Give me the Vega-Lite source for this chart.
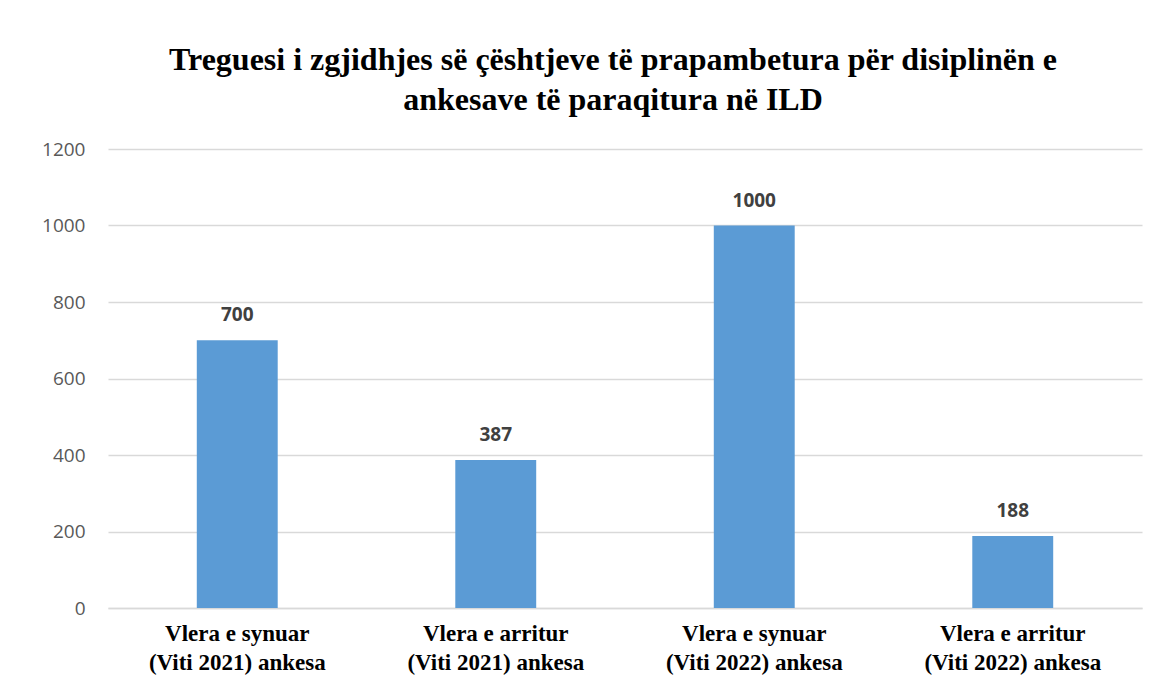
{
  "$schema": "https://vega.github.io/schema/vega-lite/v6.json",
  "autosize": {"type": "none"},
  "width": 1034,
  "height": 459,
  "padding": {"left": 108, "top": 149, "right": 28, "bottom": 83},
  "background": "white",
  "title": {
    "text": ["Treguesi i zgjidhjes së çështjeve të prapambetura për disiplinën e", "ankesave të paraqitura në ILD"],
    "font": "Liberation Serif",
    "fontSize": 32,
    "fontWeight": "bold",
    "color": "#000000",
    "anchor": "middle",
    "dx": -12,
    "offset": 23,
    "lineHeight": 40
  },
  "data": {
    "values": [
      {"cat": "Vlera e synuar (Viti 2021) ankesa", "value": 700},
      {"cat": "Vlera e arritur (Viti 2021) ankesa", "value": 387},
      {"cat": "Vlera e synuar (Viti 2022) ankesa", "value": 1000},
      {"cat": "Vlera e arritur (Viti 2022) ankesa", "value": 188}
    ]
  },
  "encoding": {
    "x": {
      "field": "cat",
      "type": "nominal",
      "sort": null,
      "title": null,
      "scale": {"paddingInner": 0.687, "paddingOuter": 0.3435},
      "axis": {
        "labelAngle": 0,
        "labelExpr": "[slice(datum.label, 0, indexof(datum.label, ' (')), slice(datum.label, indexof(datum.label, ' (') + 1)]",
        "labelFont": "Liberation Serif",
        "labelFontSize": 23,
        "labelFontWeight": "bold",
        "labelColor": "#000000",
        "labelLineHeight": 29,
        "labelPadding": 14,
        "ticks": false,
        "domain": true,
        "domainColor": "#d9d9d9",
        "domainWidth": 1.5,
        "grid": false
      }
    },
    "y": {
      "field": "value",
      "type": "quantitative",
      "title": null,
      "scale": {"domain": [0, 1200]},
      "axis": {
        "values": [0, 200, 400, 600, 800, 1000, 1200],
        "format": "d",
        "labelFont": "Open Sans",
        "labelFontSize": 19,
        "labelColor": "#595959",
        "labelPadding": 23,
        "ticks": false,
        "domain": false,
        "grid": true,
        "gridColor": "#d9d9d9",
        "gridWidth": 1.5
      }
    }
  },
  "layer": [
    {"mark": {"type": "bar", "color": "#5b9bd5"}},
    {
      "mark": {"type": "text", "baseline": "bottom", "dy": -15, "font": "Open Sans", "fontSize": 19, "fontWeight": "bold", "color": "#404040"},
      "encoding": {"text": {"field": "value", "type": "quantitative", "format": "d"}}
    }
  ],
  "config": {
    "view": {"stroke": null}
  }
}
